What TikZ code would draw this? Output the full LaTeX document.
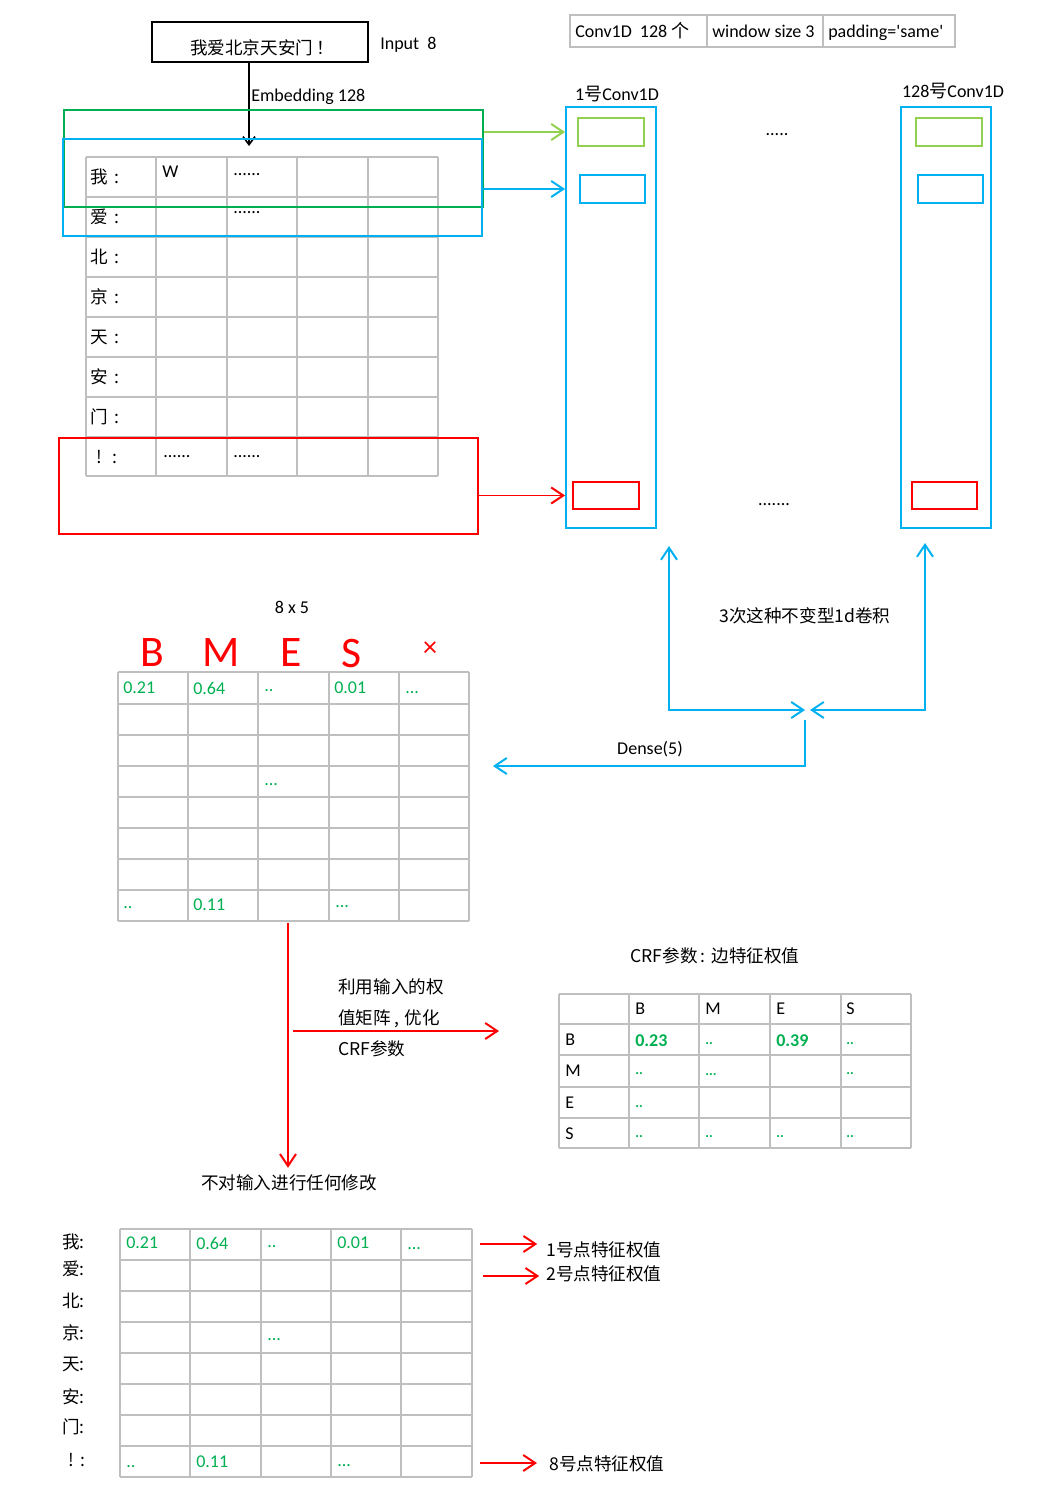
\documentclass[tikz,border=0pt]{standalone}
\usepackage{fontspec}
\setmainfont{Carlito}[Ligatures=TeXOff]
\newfontfamily\cjk{Noto Sans CJK SC}
\usepackage{tikz}
\usetikzlibrary{positioning, arrows.meta, fit, calc}
\definecolor{cblue}{HTML}{00B0F0}
\definecolor{cgreen}{HTML}{00B050}
\definecolor{lgreen}{HTML}{92D050}
\definecolor{cred}{HTML}{FF0000}
\definecolor{tgray}{HTML}{BFBFBF}
\tikzset{
    >={Straight Barb[length=3mm,width=4mm]},
    every node/.style={font=\fontsize{12.8}{15}\selectfont, inner sep=0pt},
    zh/.style={font=\cjk\fontsize{12.5}{15}\selectfont},
    val/.style={anchor=west, text=cgreen},
    grid line/.style={draw=tgray, line width=1.4pt},
    box/.style={draw, line width=1.4pt, inner sep=0pt},
    link/.style={->, line width=1.4pt},
    hand/.style={text=cred, font=\fontsize{31}{31}\selectfont},
}

\begin{document}
\begin{tikzpicture}[x=0.025cm, y=-0.025cm]
    \useasboundingbox (0,0) rectangle (1052,1490);

    % input sentence and embedding
    \node[box, fit={(152,22) (368,62)}] (inbox) {};
    \node[zh] (sent) at (262,48) {我爱北京天安门\,！};
    \node[anchor=base west] (inlen) at (380,50) {Input\ \ 8};
    \coordinate (embtop) at (249,146);
    \draw[line width=1.2pt, -{Straight Barb[length=2mm,width=3mm]}] (inbox.south -| embtop) -- (embtop);
    \node[anchor=base west] (emblbl) at (251,102) {Embedding 128};

    \foreach \x in {86,156,227,297,368,438}
        \draw[grid line] (\x,157) -- (\x,476);
    \foreach \y in {157,197,237,277,317,357,397,437,476}
        \draw[grid line] (86,\y) -- (438,\y);
    \foreach \ch [count=\i] in {我,爱,北,京,天,安,门}
        \node[zh, anchor=west] (row\i) at (90,137+40*\i) {\ch\hspace{0.35em}:};
    \node[zh, anchor=west] (row8) at (96,457) {!\hspace{0.6em}:};
    \node[anchor=west] (w11) at (162,172) {W};
    \node[anchor=west] (d12) at (233,175) {......};
    \node[anchor=west] (d22) at (233,213) {......};
    \node[anchor=west] (d81) at (163,457) {......};
    \node[anchor=west] (d82) at (233,457) {......};

    % sliding windows
    \node[box, draw=cgreen, fit={(64,110) (483,207)}] (win1) {};
    \node[box, draw=cblue, fit={(63,139) (482,236)}] (win2) {};
    \node[box, draw=cred, fit={(59,438) (478,534)}] (win8) {};

    % conv settings
    \node[box, draw=tgray, fit={(570,15) (955,47)}] (conf) {};
    \draw[grid line] (707,15) -- (707,47);
    \draw[grid line] (823,15) -- (823,47);
    \node[anchor=base west] (cnum) at (575,38) {Conv1D\ \ 128 {\cjk 个}};
    \node[anchor=base west] (cwin) at (712,38) {window size 3};
    \node[anchor=base west] (cpad) at (828,38) {padding='same'};

    % conv filters
    \node[anchor=base] (c1lbl) at (617,101) {1{\cjk 号}Conv1D};
    \node[anchor=base] (c128lbl) at (953,98) {128{\cjk 号}Conv1D};
    \node[box, draw=cblue, fit={(566,107) (656,528)}] (conv1) {};
    \node[box, draw=cblue, fit={(901,107) (991,528)}] (conv128) {};
    \node[box, draw=lgreen, fit={(578,118) (644,146)}] (g1) {};
    \node[box, draw=cblue, fit={(580,175) (645,203)}] (b1) {};
    \node[box, draw=cred, fit={(573,482) (639,509)}] (r1) {};
    \node[box, draw=lgreen, fit={(916,118) (982,146)}] (g128) {};
    \node[box, draw=cblue, fit={(918,175) (983,203)}] (b128) {};
    \node[box, draw=cred, fit={(912,482) (977,509)}] (r128) {};
    \node (dots1) at (777,135) {.....};
    \node (dots2) at (774,505) {.......};

    \draw[link, draw=lgreen] (win1.east |- g1.west) -- (conv1.west |- g1.west);
    \draw[link, draw=cblue] (win2.east |- b1.west) -- (conv1.west |- b1.west);
    \draw[link, draw=cred] (win8.east |- r1.west) -- (conv1.west |- r1.west);

    % stacked convs and dense
    \coordinate (up1) at (669,546);
    \coordinate (up128) at (925,543);
    \coordinate (joinL) at (805,710);
    \coordinate (joinR) at (810,710);
    \coordinate (densetop) at (805,720);
    \coordinate (denseout) at (493,766);
    \draw[link, <->, draw=cblue] (up1) |- (joinL);
    \draw[link, <->, draw=cblue] (up128) |- (joinR);
    \draw[link, draw=cblue] (densetop) |- (denseout);
    \node[zh] (conv3) at (805,616) {3次这种不变型1d卷积};
    \node[anchor=base] (dense) at (650,754) {Dense(5)};

    % emission scores 8 x 5
    \node[anchor=base] (shape) at (292,613) {8 x 5};
    \node[hand] (hB) at (152,653) {B};
    \node[hand] (hM) at (221,653) {M};
    \node[hand] (hE) at (291,653) {E};
    \node[hand] (hS) at (352,653) {S};
    \node[hand, font=\fontsize{20}{20}\selectfont] (hX) at (430,649) {×};
    \foreach \x in {118,188,258,329,399,469}
        \draw[grid line] (\x,672) -- (\x,921);
    \foreach \y in {672,704,735,766,797,828,859,890,921}
        \draw[grid line] (118,\y) -- (469,\y);
    \node[val] (t11) at (123,688) {0.21};
    \node[val] (t12) at (193,688) {0.64};
    \node[val] (t13) at (264,691) {..};
    \node[val] (t14) at (334,688) {0.01};
    \node[val] (t15) at (405,693) {...};
    \node[val] (t43) at (264,785) {...};
    \node[val] (t81) at (123,908) {..};
    \node[val] (t82) at (193,905) {0.11};
    \node[val] (t84) at (335,907) {...};

    % CRF transitions
    \node[zh] (crf) at (715,956) {CRF参数\hspace{0.15em}:\hspace{0.35em}边特征权值};
    \foreach \x in {559,629,699,770,841,911}
        \draw[grid line] (\x,994) -- (\x,1148);
    \foreach \y in {994,1024,1055,1087,1118,1148}
        \draw[grid line] (559,\y) -- (911,\y);
    \foreach \tg/\x in {B/635,M/705,E/776,S/846}
        \node[anchor=west] (col\tg) at (\x,1009) {\tg};
    \foreach \tg/\y in {B/1040,M/1071,E/1103,S/1134}
        \node[anchor=west] (lin\tg) at (565,\y) {\tg};
    \node[val, font=\bfseries\fontsize{12.8}{15}\selectfont] (bb) at (635,1041) {0.23};
    \node[val, font=\bfseries] (bm) at (705,1044) {..};
    \node[val, font=\bfseries\fontsize{12.8}{15}\selectfont] (be) at (776,1041) {0.39};
    \node[val, font=\bfseries] (bs) at (846,1044) {..};
    \node[val, font=\bfseries] (mb) at (635,1074) {..};
    \node[val, font=\bfseries] (mm) at (705,1075) {...};
    \node[val, font=\bfseries] (ms) at (846,1074) {..};
    \node[val, font=\bfseries] (eb) at (635,1107) {..};
    \foreach \x [count=\i] in {635,705,776,846}
        \node[val, font=\bfseries] (s\i) at (\x,1137) {..};

    % training flow
    \coordinate (tagout) at (288,923);
    \node[zh] (nochg) at (289,1183) {不对输入进行任何修改};
    \draw[link, draw=cred, shorten >=0.17cm] (tagout) -- (tagout |- nochg.north);
    \coordinate (split) at (293,1031);
    \coordinate (crfin) at (499,1031);
    \draw[link, draw=cred] (split) -- (crfin);
    \node[zh, font=\cjk\fontsize{12.5}{22}\selectfont, align=left, anchor=west] (learn) at (338,1018)
        {利用输入的权\\值矩阵\hspace{0.2em},\hspace{0.3em}优化\\CRF参数};

    % node features
    \foreach \x in {120,190,261,331,401,472}
        \draw[grid line] (\x,1229) -- (\x,1477);
    \foreach \y in {1229,1260,1291,1322,1353,1384,1415,1446,1477}
        \draw[grid line] (120,\y) -- (472,\y);
    \foreach \ch/\y [count=\i] in {我/1242,爱/1269,北/1301,京/1333,天/1364,安/1397,门/1427}
        \node[zh, anchor=west] (out\i) at (62,\y) {\ch:};
    \node[zh, anchor=west] (out8) at (68,1460) {!\hspace{0.4em}:};
    \node[val] (f11) at (126,1243) {0.21};
    \node[val] (f12) at (196,1243) {0.64};
    \node[val] (f13) at (267,1247) {..};
    \node[val] (f14) at (337,1243) {0.01};
    \node[val] (f15) at (407,1249) {...};
    \node[val] (f43) at (267,1340) {...};
    \node[val] (f81) at (126,1467) {..};
    \node[val] (f82) at (196,1462) {0.11};
    \node[val] (f84) at (337,1466) {...};

    \node[zh, anchor=west] (p1) at (546,1250) {1号点特征权值};
    \node[zh, anchor=west] (p2) at (546,1274) {2号点特征权值};
    \node[zh, anchor=west] (p8) at (549,1464) {8号点特征权值};
    \coordinate (o1) at (480,1244);
    \coordinate (o2) at (483,1276);
    \coordinate (o8) at (480,1463);
    \draw[link, draw=cred, shorten >=0.22cm] (o1) -- (o1 -| p1.west);
    \draw[link, draw=cred, shorten >=0.17cm] (o2) -- (o2 -| p2.west);
    \draw[link, draw=cred, shorten >=0.3cm] (o8) -- (o8 -| p8.west);
\end{tikzpicture}
\end{document}
